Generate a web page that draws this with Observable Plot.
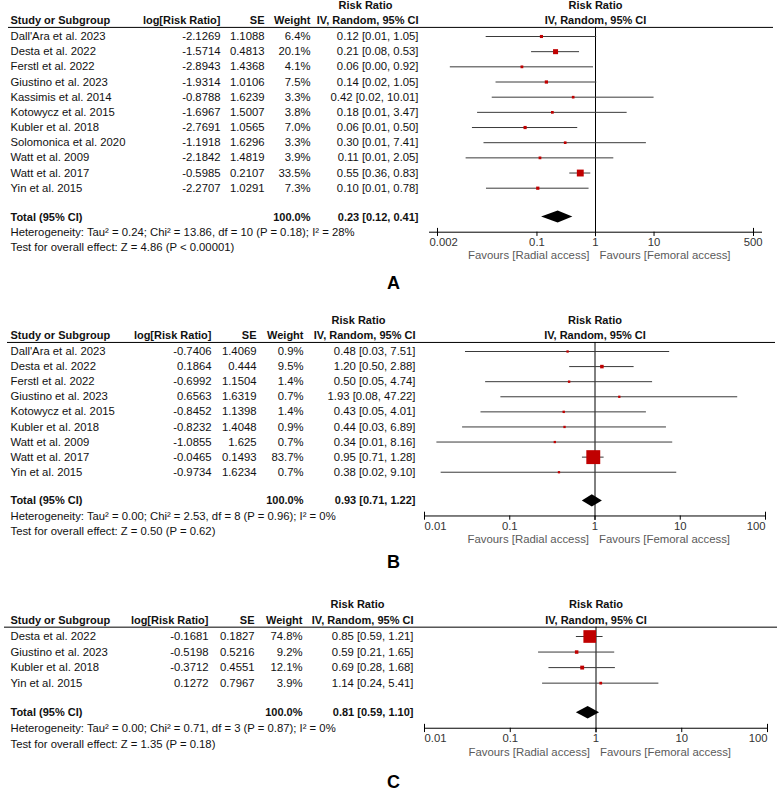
<!DOCTYPE html>
<html><head><meta charset="utf-8">
<script src="https://cdn.jsdelivr.net/npm/d3@7"></script>
<script src="https://cdn.jsdelivr.net/npm/@observablehq/plot@0.6"></script>
<style>
body{margin:0;background:#fff;}
.panel{position:relative;width:778px;}
.panel svg{position:absolute;left:0;top:0;overflow:visible;}
.letter{position:absolute;left:387px;font:bold 18px "Liberation Sans",Arial,sans-serif;line-height:20px;color:#000;}
</style></head><body><div id="root"></div>
<script>
// ---------- Panel A ----------
const studiesA = ["Dall'Ara et al. 2023","Desta et al. 2022","Ferstl et al. 2022","Giustino et al. 2023","Kassimis et al. 2014","Kotowycz et al. 2015","Kubler et al. 2018","Solomonica et al. 2020","Watt et al. 2009","Watt et al. 2017","Yin et al. 2015"];
const logRRA = [-2.1269,-1.5714,-2.8943,-1.9314,-0.8788,-1.6967,-2.7691,-1.1918,-2.1842,-0.5985,-2.2707];
const seA = [1.1088,0.4813,1.4368,1.0106,1.6239,1.5007,1.0565,1.6296,1.4819,0.2107,1.0291];
const weightA = [6.4,20.1,4.1,7.5,3.3,3.8,7.0,3.3,3.9,33.5,7.3];
const rrA = [0.12,0.21,0.06,0.14,0.42,0.18,0.06,0.30,0.11,0.55,0.10];
const loA = [0.01,0.08,0.00,0.02,0.02,0.01,0.01,0.01,0.01,0.36,0.01];
const hiA = [1.05,0.53,0.92,1.05,10.01,3.47,0.50,7.41,2.05,0.83,0.78];
const totalA = [0.23,0.12,0.41];
const hetA = "Heterogeneity: Tau² = 0.24; Chi² = 13.86, df = 10 (P = 0.18); I² = 28%";
const testA = "Test for overall effect: Z = 4.86 (P < 0.00001)";
const ticksA = [0.002,0.1,1,10,500];
const tickLabelsA = ["0.002","0.1","1","10","500"];

// ---------- Panel B ----------
const studiesB = ["Dall'Ara et al. 2023","Desta et al. 2022","Ferstl et al. 2022","Giustino et al. 2023","Kotowycz et al. 2015","Kubler et al. 2018","Watt et al. 2009","Watt et al. 2017","Yin et al. 2015"];
const logRRB = [-0.7406,0.1864,-0.6992,0.6563,-0.8452,-0.8232,-1.0855,-0.0465,-0.9734];
const seB = [1.4069,0.444,1.1504,1.6319,1.1398,1.4048,1.625,0.1493,1.6234];
const weightB = [0.9,9.5,1.4,0.7,1.4,0.9,0.7,83.7,0.7];
const rrB = [0.48,1.20,0.50,1.93,0.43,0.44,0.34,0.95,0.38];
const loB = [0.03,0.50,0.05,0.08,0.05,0.03,0.01,0.71,0.02];
const hiB = [7.51,2.88,4.74,47.22,4.01,6.89,8.16,1.28,9.10];
const totalB = [0.93,0.71,1.22];
const hetB = "Heterogeneity: Tau² = 0.00; Chi² = 2.53, df = 8 (P = 0.96); I² = 0%";
const testB = "Test for overall effect: Z = 0.50 (P = 0.62)";
const ticksB = [0.01,0.1,1,10,100];
const tickLabelsB = ["0.01","0.1","1","10","100"];

// ---------- Panel C ----------
const studiesC = ["Desta et al. 2022","Giustino et al. 2023","Kubler et al. 2018","Yin et al. 2015"];
const logRRC = [-0.1681,-0.5198,-0.3712,0.1272];
const seC = [0.1827,0.5216,0.4551,0.7967];
const weightC = [74.8,9.2,12.1,3.9];
const rrC = [0.85,0.59,0.69,1.14];
const loC = [0.59,0.21,0.28,0.24];
const hiC = [1.21,1.65,1.68,5.41];
const totalC = [0.81,0.59,1.10];
const hetC = "Heterogeneity: Tau² = 0.00; Chi² = 0.71, df = 3 (P = 0.87); I² = 0%";
const testC = "Test for overall effect: Z = 1.35 (P = 0.18)";
const ticksC = [0.01,0.1,1,10,100];
const tickLabelsC = ["0.01","0.1","1","10","100"];

const colHeads = ["Study or Subgroup","log[Risk Ratio]","SE","Weight","IV, Random, 95% CI"];
const FONT = '"Liberation Sans", Arial, sans-serif';
const INK = "#111";
const FS = 11.3;

function fmtCI(a,b,c){ return `${a.toFixed(2)} [${b.toFixed(2)}, ${c.toFixed(2)}]`; }

function panel(d, L) {
  const n = d.studies.length;
  const rows = d.studies.map((s,i)=>({study:s,row:i,log:d.logRR[i],se:d.se[i],w:d.weight[i],rr:d.rr[i],lo:d.lo[i],hi:d.hi[i]}));
  const R = {h1:-2.03, h2:-1.03, line:-0.6, total:n-1+1.9};
  R.het = R.total+1.03; R.test = R.total+2.02; R.axis = R.total+1.0; R.tick = R.axis+0.67; R.fav = R.axis+1.55;
  const H = Math.ceil(L.first + (R.fav+0.75)*L.step);
  const yS = {type:"linear", domain:[-L.first/L.step,(H-L.first)/L.step], range:[0,H], axis:null};
  const style = {background:"transparent", fontFamily:FONT, fontSize:"11px", overflow:"visible"};
  const c = L.cols;

  const left = Plot.plot({
    width:778, height:H, margin:0,
    x:{type:"identity", axis:null}, y:yS, style,
    marks:[
      Plot.ruleY([R.line],{x1:L.lineX[0],x2:L.lineX[1],stroke:"#000",strokeWidth:1}),
      Plot.text(["Risk Ratio"],{x:c[5],y:R.h1,fontWeight:"bold",fill:INK}),
      Plot.text([colHeads[0]],{x:c[0],y:R.h2,textAnchor:"start",fontWeight:"bold",fill:INK}),
      Plot.text(colHeads.slice(1),{x:(t,i)=>c[i+1],y:R.h2,textAnchor:"end",fontWeight:"bold",fill:INK}),
      Plot.text(rows,{x:c[0],y:"row",text:"study",textAnchor:"start",fill:INK,fontSize:FS}),
      Plot.text(rows,{x:c[1],y:"row",text:r=>String(r.log),textAnchor:"end",fill:INK,fontSize:FS}),
      Plot.text(rows,{x:c[2],y:"row",text:r=>String(r.se),textAnchor:"end",fill:INK,fontSize:FS}),
      Plot.text(rows,{x:c[3],y:"row",text:r=>r.w.toFixed(1)+"%",textAnchor:"end",fill:INK,fontSize:FS}),
      Plot.text(rows,{x:c[4],y:"row",text:r=>fmtCI(r.rr,r.lo,r.hi),textAnchor:"end",fill:INK,fontSize:FS}),
      Plot.text(["Total (95% CI)"],{x:c[0],y:R.total,textAnchor:"start",fontWeight:"bold",fill:INK}),
      Plot.text(["100.0%"],{x:c[3],y:R.total,textAnchor:"end",fontWeight:"bold",fill:INK}),
      Plot.text([d.total],{x:c[4],y:R.total,text:t=>fmtCI(t[0],t[1],t[2]),textAnchor:"end",fontWeight:"bold",fill:INK}),
      Plot.text([d.het],{x:c[0],y:R.het,textAnchor:"start",fill:INK,fontSize:FS}),
      Plot.text([d.test],{x:c[0],y:R.test,textAnchor:"start",fill:INK,fontSize:FS})
    ]
  });

  const diamond = [
    {x:d.total[1],y1:R.total,y2:R.total},
    {x:d.total[0],y1:R.total-0.4,y2:R.total+0.4},
    {x:d.total[2],y1:R.total,y2:R.total}
  ];
  const ticks = d.ticks.map((t,i)=>({t,label:d.tickLabels[i],end:i===0||i===d.ticks.length-1}));
  const right = Plot.plot({
    width:778, height:H, marginLeft:L.frame[0], marginRight:778-L.frame[1], marginTop:0, marginBottom:0,
    x:{type:"log", domain:[d.ticks[0], d.ticks[d.ticks.length-1]], range:L.xr, axis:null},
    y:yS, r:{type:"identity"}, style,
    marks:[
      Plot.ruleX([1],{y1:R.line,y2:R.axis+0.3,stroke:"#000"}),
      Plot.ruleY(rows,{y:"row",x1:r=>Math.exp(r.log-1.96*r.se),x2:r=>Math.exp(r.log+1.96*r.se),stroke:"#3a3a3a"}),
      Plot.dot(rows,{x:r=>Math.exp(r.log),y:"row",r:r=>(2.2+0.14*r.w)/Math.sqrt(Math.PI),symbol:"square",fill:"#c00000",stroke:"none"}),
      Plot.areaY(diamond,{x:"x",y1:"y1",y2:"y2",fill:"#000"}),
      Plot.ruleY([R.axis],{stroke:"#000"}),
      Plot.ruleX(ticks,{x:"t",y1:k=>k.end?R.axis-0.25:R.axis,y2:R.axis+0.28,stroke:"#000"}),
      Plot.text(ticks.filter(k=>!k.end),{x:"t",y:R.tick,text:"label",fill:"#333",fontSize:FS}),
      Plot.text([ticks[0]],{frameAnchor:"left",y:R.tick,text:"label",textAnchor:"start",fill:"#333",fontSize:FS}),
      Plot.text([ticks[ticks.length-1]],{frameAnchor:"right",y:R.tick,text:"label",textAnchor:"end",fill:"#333",fontSize:FS}),
      Plot.text(["Favours [Radial access]"],{x:1,y:R.fav,textAnchor:"end",dx:-6,fill:"#5a5a5a",fontSize:11.4}),
      Plot.text(["Favours [Femoral access]"],{x:1,y:R.fav,textAnchor:"start",dx:4,fill:"#5a5a5a",fontSize:11.4}),
      Plot.text(["Risk Ratio"],{x:1,y:R.h1,fontWeight:"bold",fill:INK}),
      Plot.text(["IV, Random, 95% CI"],{x:1,y:R.h2,fontWeight:"bold",fill:INK})
    ]
  });

  const div = document.createElement("div");
  div.className = "panel";
  div.style.height = L.blockH + "px";
  div.appendChild(left);
  div.appendChild(right);
  const lab = document.createElement("div");
  lab.className = "letter";
  lab.textContent = L.letter;
  lab.style.top = (L.letterY - 10) + "px";
  div.appendChild(lab);
  return div;
}

const root = document.getElementById("root");
root.appendChild(panel(
  {studies:studiesA,logRR:logRRA,se:seA,weight:weightA,rr:rrA,lo:loA,hi:hiA,total:totalA,het:hetA,test:testA,ticks:ticksA,tickLabels:tickLabelsA},
  {first:36,step:15.17,cols:[10,220,264,310,418,365],xr:[437,753],frame:[429,762],lineX:[8,773],blockH:315,letter:"A",letterY:283}
));
root.appendChild(panel(
  {studies:studiesB,logRR:logRRB,se:seB,weight:weightB,rr:rrB,lo:loB,hi:hiB,total:totalB,het:hetB,test:testB,ticks:ticksB,tickLabels:tickLabelsB},
  {first:36,step:15.09,cols:[10,211,256,303,415,358],xr:[424,765],frame:[424,765],lineX:[7,775],blockH:285,letter:"B",letterY:247}
));
root.appendChild(panel(
  {studies:studiesC,logRR:logRRC,se:seC,weight:weightC,rr:rrC,lo:loC,hi:hiC,total:totalC,het:hetC,test:testC,ticks:ticksC,tickLabels:tickLabelsC},
  {first:36,step:15.55,cols:[10,208,254,302,413,357],xr:[424,767],frame:[424,767],lineX:[4,777],blockH:191,letter:"C",letterY:182}
));
</script></body></html>
